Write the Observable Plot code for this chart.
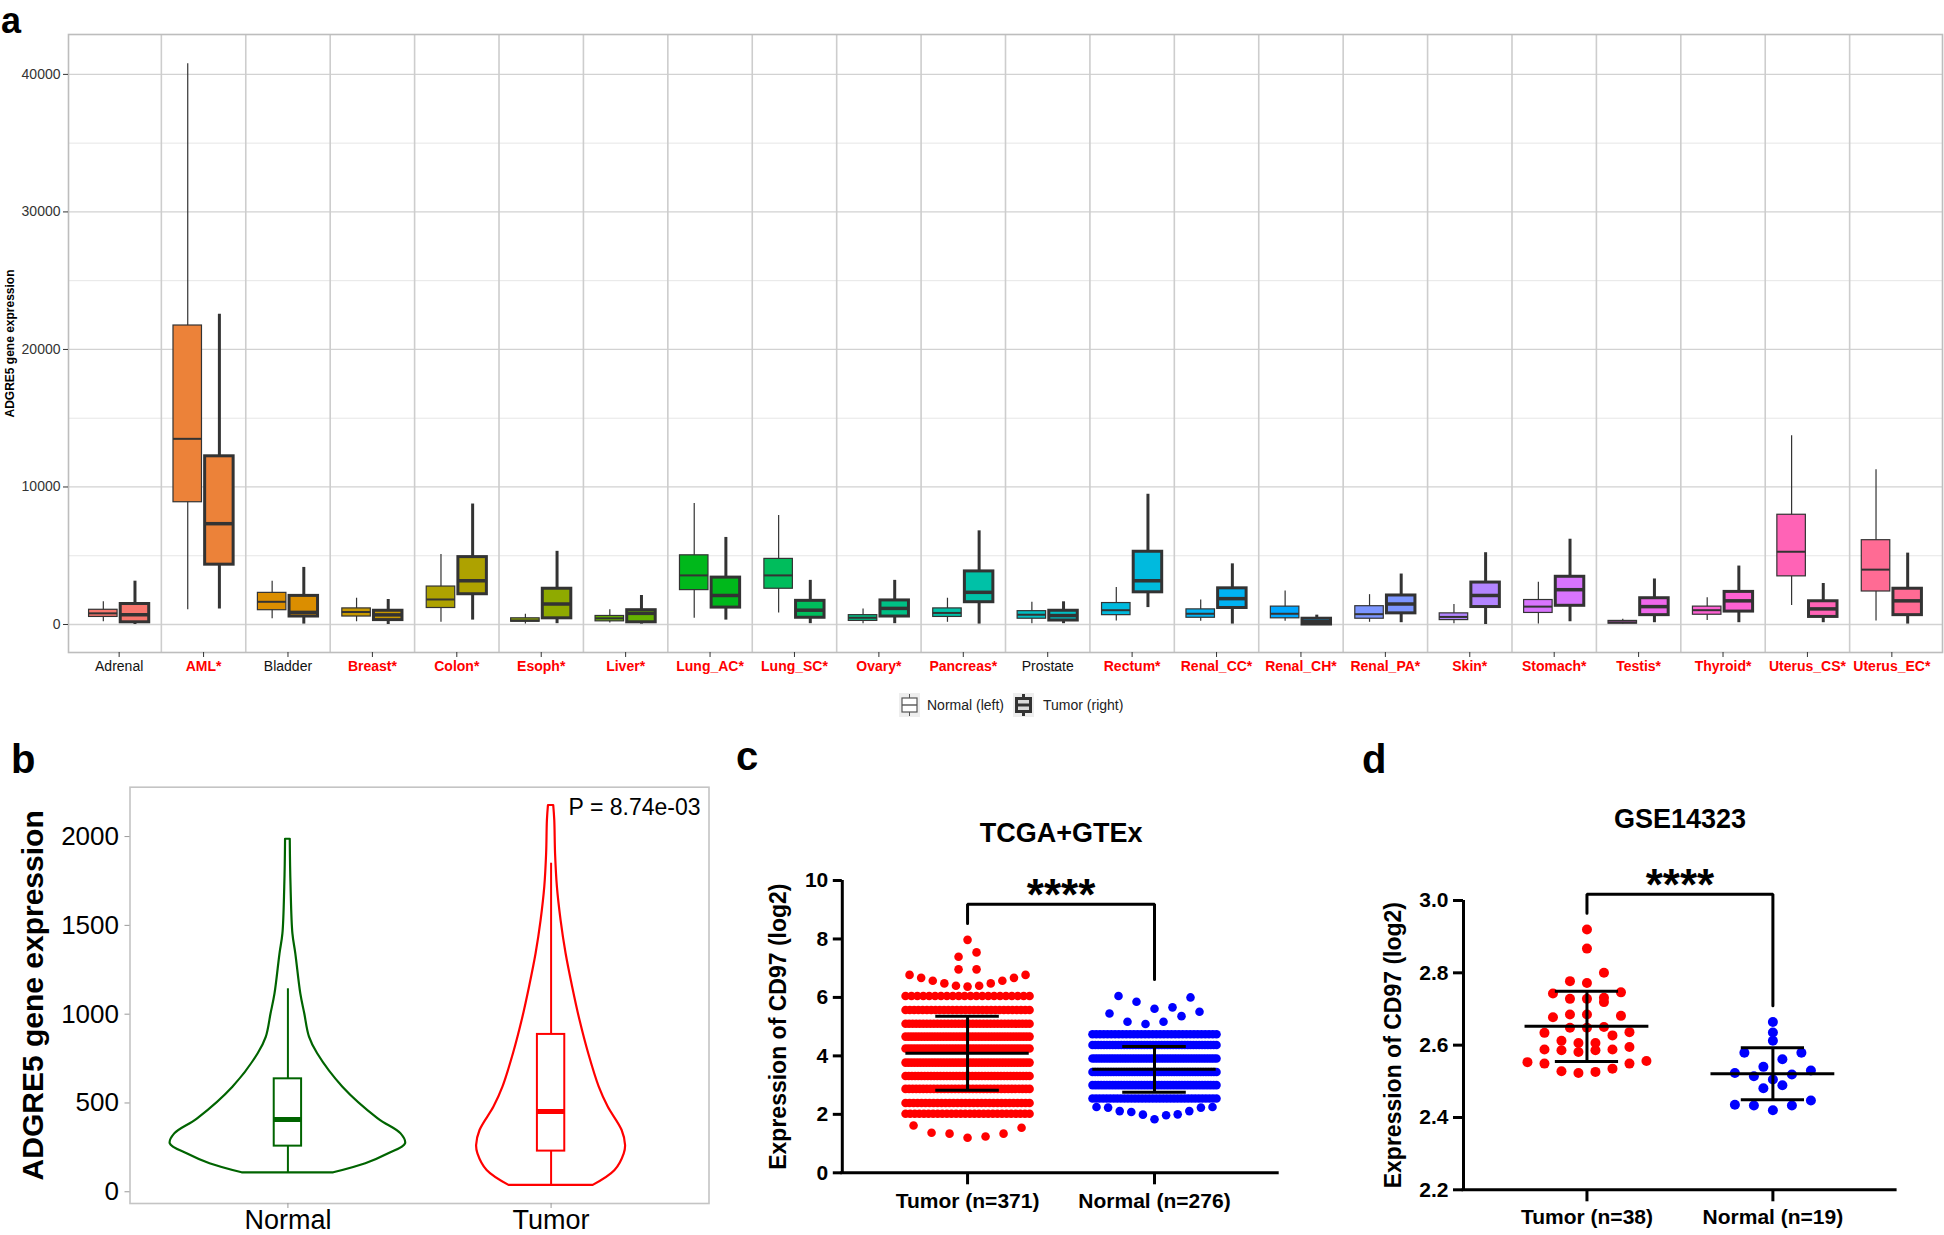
<!DOCTYPE html>
<html><head><meta charset="utf-8">
<script src="https://cdn.jsdelivr.net/npm/d3@7"></script>
<script src="https://cdn.jsdelivr.net/npm/@observablehq/plot@0.6"></script>
<style>
body{margin:0;background:#fff;font-family:"Liberation Sans",Arial,sans-serif;}
#root{position:relative;width:1944px;height:1235px;overflow:hidden;background:#fff;}
.tag{position:absolute;font-weight:bold;font-size:40px;line-height:28px;color:#000;}
svg{overflow:visible;}
</style></head><body><div id="root"></div>
<script>
// ---------------- DATA ----------------
// Panel a: ADGRE5 expression by tissue, [min, Q1, median, Q3, max]
const tissues = ["Adrenal","AML*","Bladder","Breast*","Colon*","Esoph*","Liver*","Lung_AC*","Lung_SC*","Ovary*","Pancreas*","Prostate","Rectum*","Renal_CC*","Renal_CH*","Renal_PA*","Skin*","Stomach*","Testis*","Thyroid*","Uterus_CS*","Uterus_EC*"];
const normalBox = [
  [200,550,810,1070,1650],[1070,8890,13500,21740,40780],[420,1040,1650,2300,3150],[200,580,910,1170,1910],
  [160,1200,1820,2760,5090],[30,200,290,450,750],[100,230,450,620,1070],[450,2500,3570,5030,8790],
  [840,2600,3570,4770,7920],[60,260,490,680,1135],[160,550,840,1170,1910],[60,420,710,970,1620],
  [260,680,1040,1560,2690],[230,490,780,1100,1780],[230,450,780,1300,2430],[160,420,750,1330,2170],
  [60,320,550,810,1460],[30,840,1300,1780,3080],[30,60,160,260,390],[290,710,1040,1300,1950],
  [1390,3500,5290,7980,13720],[260,2400,3990,6130,11260]
];
const tumorBox = [
  [0,160,710,1490,3150],[1135,4350,7330,12230,22550],[30,580,880,2080,4150],[0,320,700,1000,1820],
  [320,2200,3180,4900,8760],[60,450,1490,2600,5320],[30,160,810,1040,2110],[320,1230,2110,3410,6330],
  [60,490,1040,1720,3210],[60,580,1170,1750,3210],[30,1620,2340,3860,6810],[60,290,650,1000,1650],
  [1230,2340,3180,5290,9470],[30,1200,1880,2630,4410],[0,0,200,420,680],[130,810,1490,2110,3670],
  [0,1270,2110,3050,5220],[200,1360,2530,3470,6200],[130,680,1300,1910,3310],[130,940,1720,2370,4250],
  [130,550,1135,1690,2980],[30,680,1720,2600,5190]
];
const aYTicks = [0,10000,20000,30000,40000];
const aYMinor = [5000,15000,25000,35000];

// Panel b: violin outlines (value, half-width in category units) and box stats
const bGroups = ["Normal","Tumor"];
const bNormalLevels = [107,158,214,270,326,411,589,777,871,1002,1114,1340,1452,1715,1977,1985];
const bNormalHalfW  = [0.174,0.296,0.383,0.447,0.430,0.343,0.209,0.113,0.082,0.064,0.049,0.030,0.019,0.012,0.009,0.009];
const bTumorLevels  = [36,120,214,261,345,477,589,777,964,1152,1340,1527,1715,1902,2090,2175];
const bTumorHalfW   = [0.160,0.243,0.278,0.283,0.270,0.217,0.183,0.143,0.110,0.082,0.057,0.038,0.024,0.017,0.014,0.010];
const bNormalStats = [107,257,407,636,1143];
const bTumorStats  = [36,229,452,886,1850];
const bYTicks = [0,500,1000,1500,2000];
const bPText = "P = 8.74e-03";

// Panel c: TCGA+GTEx dot rows (sparse rows: individual values left->right; dense bands: level + count)
const cGroups = ["Tumor (n=371)","Normal (n=276)"];
const cTumorSparse = [[7.97],[7.39,7.54],[6.96,6.96],[6.77,6.67,6.57,6.48,6.40,6.37,6.40,6.48,6.57,6.67,6.77],[1.62,1.37,1.34,1.20,1.24,1.34,1.54]];
const cTumorBandLevel = [6.05,5.57,5.10,4.66,4.25,3.77,3.31,2.87,2.39,2.02];
const cTumorBandCount = [22,30,36,40,42,42,40,36,32,28];
const cNormalSparse = [[6.05,5.85,5.61,5.66,6.00],[5.45,5.17,5.09,5.17,5.36,5.51],[2.25,2.23,2.11,2.08,1.99,1.83,1.97,2.00,2.11,2.23,2.25]];
const cNormalBandLevel = [4.74,4.37,3.91,3.45,3.00,2.54];
const cNormalBandCount = [34,44,48,48,44,36];
const cMean = [4.09,3.54];
const cSD = [1.27,0.78];
const cYTicks = [0,2,4,6,8,10];

// Panel d: GSE14323 individual values
const dGroups = ["Tumor (n=38)","Normal (n=19)"];
const dTumor = [2.920,2.867,2.800,2.772,2.777,2.743,2.746,2.728,2.719,2.728,2.731,2.681,2.685,2.685,2.677,2.650,2.648,2.634,2.636,2.648,2.612,2.606,2.627,2.606,2.588,2.586,2.581,2.586,2.588,2.595,2.553,2.549,2.528,2.523,2.526,2.535,2.549,2.556];
const dNormal = [2.664,2.635,2.612,2.579,2.579,2.561,2.540,2.530,2.519,2.523,2.505,2.514,2.481,2.489,2.447,2.433,2.420,2.433,2.435];
const dMean = [2.652,2.521];
const dSD = [0.097,0.072];
const dYTicks = [2.2,2.4,2.6,2.8,3.0];

// ---------------- HELPERS ----------------
const FONT = '"Liberation Sans", Arial, Helvetica, sans-serif';
const root = document.getElementById("root");
function place(el, left, top) { el.style.position = "absolute"; el.style.left = left + "px"; el.style.top = top + "px"; root.appendChild(el); }
function tag(t, left, baseline, size) {
  const d = document.createElement("div"); d.className = "tag"; d.textContent = t;
  d.style.fontSize = size + "px"; d.style.lineHeight = size + "px";
  // baseline offset for Liberation Sans (ascent .905, descent .212) with line-height = font-size
  const b = (size - 1.117 * size) / 2 + 0.905 * size;
  d.style.left = left + "px"; d.style.top = (baseline - b) + "px"; root.appendChild(d);
}
const baseStyle = {fontFamily: FONT, background: "transparent", overflow: "visible", color: "#000"};

// ggplot2 hue palette (polar LUV, l=65, c=100)
function hclHex(h, c, l) {
  const hr = h * Math.PI / 180, U = c * Math.cos(hr), V = c * Math.sin(hr);
  const WX = 95.047, WY = 100, WZ = 108.883;
  const Y = WY * (l > 7.999592 ? Math.pow((l + 16) / 116, 3) : l / 903.3);
  const den = WX + 15 * WY + 3 * WZ, uN = 4 * WX / den, vN = 9 * WY / den;
  const u = U / (13 * l) + uN, v = V / (13 * l) + vN;
  const X = 9 * Y * u / (4 * v), Z = -X / 3 - 5 * Y + 3 * Y / v;
  const lin = [
    ( 3.240479 * X - 1.537150 * Y - 0.498535 * Z) / WY,
    (-0.969256 * X + 1.875992 * Y + 0.041556 * Z) / WY,
    ( 0.055648 * X - 0.204043 * Y + 1.057311 * Z) / WY];
  const g = lin.map(t => { const s = t <= 0.0031308 ? 12.92 * t : 1.055 * Math.pow(t, 1 / 2.4) - 0.055; return Math.round(Math.max(0, Math.min(1, s)) * 255); });
  return "#" + g.map(x => x.toString(16).padStart(2, "0")).join("");
}
const hue = tissues.map((_, i) => hclHex(15 + i * 360 / tissues.length, 100, 65));

// ---------------- PANEL a ----------------
{
  const W = 1944, H = 690, mL = 68, mR = 2, mT = 34, mB = 38;
  const off = 0.1875, hw = 0.16875;
  const rows = (box, o) => box.map((b, i) => ({x: i + 1 + o, lo: b[0], q1: b[1], med: b[2], q3: b[3], hi: b[4], color: hue[i]}));
  const nr = rows(normalBox, -off), tr = rows(tumorBox, off);
  const idx = tissues.map((_, i) => i + 1);
  const sigIdx = idx.filter(i => tissues[i - 1].endsWith("*"));
  const nsIdx = idx.filter(i => !tissues[i - 1].endsWith("*"));
  const svg = Plot.plot({
    width: W, height: H, marginLeft: mL, marginRight: mR, marginTop: mT, marginBottom: mB,
    style: baseStyle,
    x: {domain: [0.4, 22.6]},
    y: {domain: [-2036, 42900]},
    color: {type: "identity"},
    marks: [
      Plot.gridY(aYMinor, {stroke: "#e6e6e6", strokeOpacity: 1, strokeWidth: 1}),
      Plot.gridY(aYTicks, {stroke: "#d2d2d2", strokeOpacity: 1, strokeWidth: 1.3}),
      Plot.ruleX(d3.range(1.5, 22, 1), {stroke: "#cdcdcd", strokeWidth: 1.6}),
      Plot.frame({stroke: "#bdbdbd", strokeWidth: 1.6}),
      Plot.ruleX(nr, {x: "x", y1: "lo", y2: "hi", stroke: "#333", strokeWidth: 1.2}),
      Plot.rect(nr, {x1: d => d.x - hw, x2: d => d.x + hw, y1: "q1", y2: "q3", fill: "color", stroke: "#333", strokeWidth: 1.2}),
      Plot.ruleY(nr, {y: "med", x1: d => d.x - hw, x2: d => d.x + hw, stroke: "#333", strokeWidth: 2}),
      Plot.ruleX(tr, {x: "x", y1: "lo", y2: "hi", stroke: "#333", strokeWidth: 3}),
      Plot.rect(tr, {x1: d => d.x - hw, x2: d => d.x + hw, y1: "q1", y2: "q3", fill: "color", stroke: "#333", strokeWidth: 3}),
      Plot.ruleY(tr, {y: "med", x1: d => d.x - hw, x2: d => d.x + hw, stroke: "#333", strokeWidth: 3.5}),
      Plot.axisY(aYTicks, {tickSize: 5, tickPadding: 3, fontSize: 14, fill: "#333", stroke: "#333", tickFormat: d => String(d), label: null}),
      Plot.axisX(nsIdx, {tickSize: 5, tickPadding: 4, fontSize: 14, fill: "#111", stroke: "#333", tickFormat: i => tissues[i - 1], label: null}),
      Plot.axisX(sigIdx, {tickSize: 5, tickPadding: 4, fontSize: 14, fontWeight: "bold", fill: "#ff0000", stroke: "#333", tickFormat: i => tissues[i - 1], label: null}),
      Plot.text(["ADGRE5 gene expression"], {frameAnchor: "left", textAnchor: "middle", dx: -58, rotate: -90, fontSize: 12, fontWeight: "bold"})
    ]
  });
  place(svg, 0, 0);

  // legend
  const ns = "http://www.w3.org/2000/svg";
  const lg = document.createElementNS(ns, "svg");
  lg.setAttribute("width", 260); lg.setAttribute("height", 32);
  lg.style.fontFamily = FONT;
  lg.innerHTML = `
    <rect x="4" y="3" width="21" height="24" fill="#eeeeee"/>
    <line x1="14.5" y1="4" x2="14.5" y2="26" stroke="#555" stroke-width="1"/>
    <rect x="7" y="8" width="15" height="14" fill="#fff" stroke="#555" stroke-width="1.2"/>
    <line x1="7" y1="15" x2="22" y2="15" stroke="#555" stroke-width="1.4"/>
    <text x="32" y="20" font-size="14" fill="#222">Normal (left)</text>
    <rect x="118" y="3" width="21" height="24" fill="#eeeeee"/>
    <line x1="128.5" y1="4" x2="128.5" y2="26" stroke="#333" stroke-width="3"/>
    <rect x="121.5" y="8.5" width="14" height="13" fill="#d9d9d9" stroke="#333" stroke-width="3"/>
    <line x1="121.5" y1="15" x2="135.5" y2="15" stroke="#333" stroke-width="3"/>
    <text x="148" y="20" font-size="14" fill="#222">Tumor (right)</text>`;
  place(lg, 895, 690);
}

// ---------------- PANEL b ----------------
{
  const W = 720, H = 515, mL = 129.5, mR = 11.5, mT = 66.7, mB = 32;
  const colors = ["#006400", "#ff0000"];
  const vN = bNormalLevels.map((v, k) => ({v, hw: bNormalHalfW[k]}));
  const vT = bTumorLevels.map((v, k) => ({v, hw: bTumorHalfW[k]}));
  const stats = [bNormalStats, bTumorStats].map((s, k) => ({x: k + 1, lo: s[0], q1: s[1], med: s[2], q3: s[3], hi: s[4], color: colors[k]}));
  const bw = 0.052;
  const svg = Plot.plot({
    width: W, height: H, marginLeft: mL, marginRight: mR, marginTop: mT, marginBottom: mB,
    style: baseStyle,
    x: {domain: [0.4, 2.6]},
    y: {domain: [-66, 2278]},
    marks: [
      Plot.frame({stroke: "#c4c4c4", strokeWidth: 1.6}),
      Plot.areaX(vN, {y: "v", x1: d => 1 - d.hw, x2: d => 1 + d.hw, fill: "white", stroke: colors[0], strokeWidth: 2.2, curve: "catmull-rom"}),
      Plot.areaX(vT, {y: "v", x1: d => 2 - d.hw, x2: d => 2 + d.hw, fill: "white", stroke: colors[1], strokeWidth: 2.2, curve: "catmull-rom"}),
      Plot.ruleX(stats, {x: "x", y1: "lo", y2: "q1", stroke: d => d.color, strokeWidth: 2}),
      Plot.ruleX(stats, {x: "x", y1: "q3", y2: "hi", stroke: d => d.color, strokeWidth: 2}),
      Plot.rect(stats, {x1: d => d.x - bw, x2: d => d.x + bw, y1: "q1", y2: "q3", fill: "none", stroke: d => d.color, strokeWidth: 2}),
      Plot.ruleY(stats, {y: "med", x1: d => d.x - bw, x2: d => d.x + bw, stroke: d => d.color, strokeWidth: 5}),
      Plot.axisY(bYTicks, {tickSize: 5, tickPadding: 6, fontSize: 26, stroke: "#999", tickFormat: d => String(d), label: null}),
      Plot.axisX([1, 2], {tickSize: 5, tickPadding: 1, fontSize: 27, stroke: "#999", tickFormat: i => bGroups[i - 1], label: null}),
      Plot.text([bPText], {frameAnchor: "top-right", dx: -8.5, dy: 20, textAnchor: "end", lineAnchor: "middle", fontSize: 23}),
      Plot.text(["ADGRE5 gene expression"], {frameAnchor: "left", textAnchor: "middle", dx: -96.5, rotate: -90, fontSize: 30, fontWeight: "bold"})
    ]
  });
  place(svg, 0, 720);
}

// ---------------- PANELS c & d helpers ----------------
function rowOffsets(n, halfPx, maxStep) {
  if (n === 1) return [0];
  const step = Math.min(maxStep, 2 * halfPx / (n - 1));
  return d3.range(n).map(k => (k - (n - 1) / 2) * step);
}
function binSwarm(values, binH, step) {
  const sorted = values.slice().sort((a, b) => a - b);
  const min = sorted[0];
  const bins = d3.groups(sorted, v => Math.floor((v - min) / binH + 1e-9));
  const out = [];
  for (const [, vs] of bins) {
    const n = vs.length;
    const offs = d3.range(n).map(k => (k - (n - 1) / 2) * step).sort((a, b) => Math.abs(a) - Math.abs(b) || a - b);
    vs.forEach((v, k) => out.push({v, px: offs[k]}));
  }
  return out;
}
function statMarks(means, sds, halfLine, halfCap) {
  const s = means.map((m, k) => ({x: k + 1, m, lo: m - sds[k], hi: m + sds[k]}));
  return [
    Plot.ruleY(s, {y: "m", x1: d => d.x - halfLine, x2: d => d.x + halfLine, stroke: "#000", strokeWidth: 3}),
    Plot.ruleY(s, {y: "hi", x1: d => d.x - halfCap, x2: d => d.x + halfCap, stroke: "#000", strokeWidth: 3}),
    Plot.ruleY(s, {y: "lo", x1: d => d.x - halfCap, x2: d => d.x + halfCap, stroke: "#000", strokeWidth: 3}),
    Plot.ruleX(s, {x: "x", y1: "lo", y2: "hi", stroke: "#000", strokeWidth: 3})
  ];
}
function bracketMarks(maxA, maxB, span) {
  const top = Math.max(maxA, maxB) + 0.122 * span;
  const gap = 0.056 * span;
  return [
    Plot.line([[1, maxA + gap], [1, top], [2, top], [2, maxB + gap]], {stroke: "#000", strokeWidth: 3, strokeLinejoin: "miter"}),
    Plot.text(["****"], {x: [1.5], y: [top + 0.027 * span], fontSize: 44, fontWeight: "bold", lineAnchor: "middle"})
  ];
}

// ---------------- PANEL c ----------------
{
  const W = 620, H = 515, mL = 121.8, mR = 61.3, mT = 160, mB = 62.7;
  const x0 = 0.33, x1 = 2.667;
  const ppu = (W - mL - mR) / (x1 - x0);
  function build(sparse, bandLevel, bandCount, g) {
    const pts = [];
    sparse.forEach(row => { rowOffsets(row.length, 58, 18).forEach((o, k) => pts.push({x: g + o / ppu, y: row[k]})); });
    bandLevel.forEach((lv, r) => { const n = bandCount[r]; rowOffsets(n, 62, Infinity).forEach(o => pts.push({x: g + o / ppu, y: lv})); });
    return pts;
  }
  const tPts = build(cTumorSparse, cTumorBandLevel, cTumorBandCount, 1);
  const nPts = build(cNormalSparse, cNormalBandLevel, cNormalBandCount, 2);
  const svg = Plot.plot({
    width: W, height: H, marginLeft: mL, marginRight: mR, marginTop: mT, marginBottom: mB,
    style: baseStyle,
    x: {domain: [x0, x1]},
    y: {domain: [0, 10]},
    marks: [
      Plot.dot(tPts, {x: "x", y: "y", r: 4.3, fill: "#ff0000", stroke: "none"}),
      Plot.dot(nPts, {x: "x", y: "y", r: 4.3, fill: "#0000ff", stroke: "none"}),
      ...statMarks(cMean, cSD, 0.33, 0.17),
      Plot.ruleX([x0], {y1: 0, y2: 10, stroke: "#000", strokeWidth: 3}),
      Plot.ruleY([0], {x1: x0 - 0.008, x2: x1, stroke: "#000", strokeWidth: 3}),
      Plot.axisY(cYTicks, {tickSize: 9, tickPadding: 5, fontSize: 21, fontWeight: "bold", strokeWidth: 3, stroke: "#000", tickFormat: d => String(d), label: null}),
      Plot.axisX([1, 2], {tickSize: 12, tickPadding: 8, fontSize: 21, fontWeight: "bold", strokeWidth: 3, stroke: "#000", tickFormat: i => cGroups[i - 1], label: null}),
      ...bracketMarks(d3.max(tPts, d => d.y), d3.max(nPts, d => d.y), 10),
      Plot.text(["TCGA+GTEx"], {x: [1.5], frameAnchor: "top", dy: -47, fontSize: 27, fontWeight: "bold", lineAnchor: "middle"}),
      Plot.text(["Expression of CD97 (log2)"], {frameAnchor: "left", textAnchor: "middle", dx: -63.8, rotate: -90, fontSize: 23, fontWeight: "bold"})
    ]
  });
  place(svg, 720, 720);
}

// ---------------- PANEL d ----------------
{
  const W = 614, H = 515, mL = 133, mR = 47.4, mT = 180, mB = 45.7;
  const x0 = 0.336, x1 = 2.668;
  const ppu = (W - mL - mR) / (x1 - x0);
  const tPts = binSwarm(dTumor, 0.04, 17).map(d => ({x: 1 + d.px / ppu, y: d.v}));
  const nPts = binSwarm(dNormal, 0.04, 19).map(d => ({x: 2 + d.px / ppu, y: d.v}));
  const svg = Plot.plot({
    width: W, height: H, marginLeft: mL, marginRight: mR, marginTop: mT, marginBottom: mB,
    style: baseStyle,
    x: {domain: [x0, x1]},
    y: {domain: [2.2, 3.0]},
    marks: [
      Plot.dot(tPts, {x: "x", y: "y", r: 5, fill: "#ff0000", stroke: "none"}),
      Plot.dot(nPts, {x: "x", y: "y", r: 5, fill: "#0000ff", stroke: "none"}),
      ...statMarks(dMean, dSD, 0.333, 0.17),
      Plot.ruleX([x0], {y1: 2.2, y2: 3.0, stroke: "#000", strokeWidth: 3}),
      Plot.ruleY([2.2], {x1: x0 - 0.008, x2: x1, stroke: "#000", strokeWidth: 3}),
      Plot.axisY(dYTicks, {tickSize: 10, tickPadding: 5, fontSize: 21, fontWeight: "bold", strokeWidth: 3, stroke: "#000", tickFormat: d3.format(".1f"), label: null}),
      Plot.axisX([1, 2], {tickSize: 12, tickPadding: 7, fontSize: 21, fontWeight: "bold", strokeWidth: 3, stroke: "#000", tickFormat: i => dGroups[i - 1], label: null}),
      ...bracketMarks(d3.max(dTumor), d3.max(dNormal), 0.8),
      Plot.text(["GSE14323"], {x: [1.5], frameAnchor: "top", dy: -81.5, fontSize: 27, fontWeight: "bold", lineAnchor: "middle"}),
      Plot.text(["Expression of CD97 (log2)"], {frameAnchor: "left", textAnchor: "middle", dx: -69.5, rotate: -90, fontSize: 23, fontWeight: "bold"})
    ]
  });
  place(svg, 1330, 720);
}

// panel tags (left, baseline, size)
tag("a", 1, 33, 36);
tag("b", 11, 773, 40);
tag("c", 736, 770, 40);
tag("d", 1362, 773, 40);
</script></body></html>
